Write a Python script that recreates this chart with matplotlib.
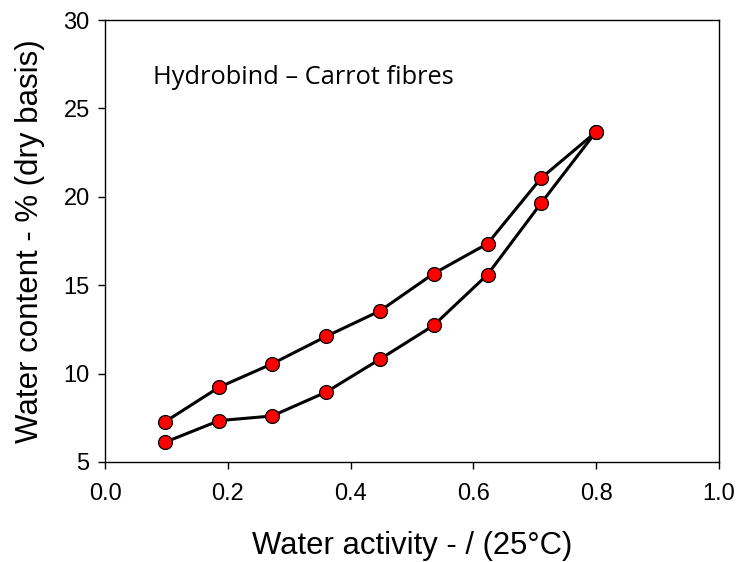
import matplotlib
matplotlib.use("Agg")
import matplotlib.pyplot as plt

# water activity (25 C)
aw = [0.098, 0.186, 0.272, 0.36, 0.448, 0.535, 0.623, 0.71, 0.799]
# desorption branch (upper)
desorption = [7.28, 9.23, 10.55, 12.1, 13.55, 15.65, 17.35, 21.05, 23.65]
# adsorption branch (lower)
adsorption = [6.12, 7.34, 7.6, 8.95, 10.82, 12.72, 15.6, 19.63, 23.65]

plt.rcParams["font.family"] = ["Liberation Sans", "DejaVu Sans"]

fig = plt.figure(figsize=(7.39, 5.62), dpi=100)
ax = fig.add_axes([0.1421, 0.178, 0.8309, 0.7864])

style = dict(color="black", linewidth=2.2, marker="o", markersize=10,
	markerfacecolor="#ff0000", markeredgecolor="black", markeredgewidth=0.9)
ax.plot(aw, adsorption, **style)
ax.plot(aw, desorption, **style)

ax.set_xlim(0, 1.0)
ax.set_ylim(5, 30)
ax.set_xticks([0.0, 0.2, 0.4, 0.6, 0.8, 1.0])
ax.set_yticks([5, 10, 15, 20, 25, 30])
ax.set_xticklabels(["0.0", "0.2", "0.4", "0.6", "0.8", "1.0"])

for s in ax.spines.values():
	s.set_linewidth(1.0)
ax.tick_params(axis="both", direction="out", length=5, width=1.0, labelsize=17)
ax.tick_params(axis="x", pad=10)
ax.tick_params(axis="y", pad=6)

ax.set_xlabel("Water activity - / (25°C)", fontsize=22.3, labelpad=19)
ax.set_ylabel("Water content - % (dry basis)", fontsize=22.5, labelpad=13)

ax.text(0.078, 26.75, "Hydrobind \u2013 Carrot fibres", fontsize=18.3,
	family=["Open Sans", "DejaVu Sans"], va="center", ha="left")

fig.savefig("out.png", dpi=100)
